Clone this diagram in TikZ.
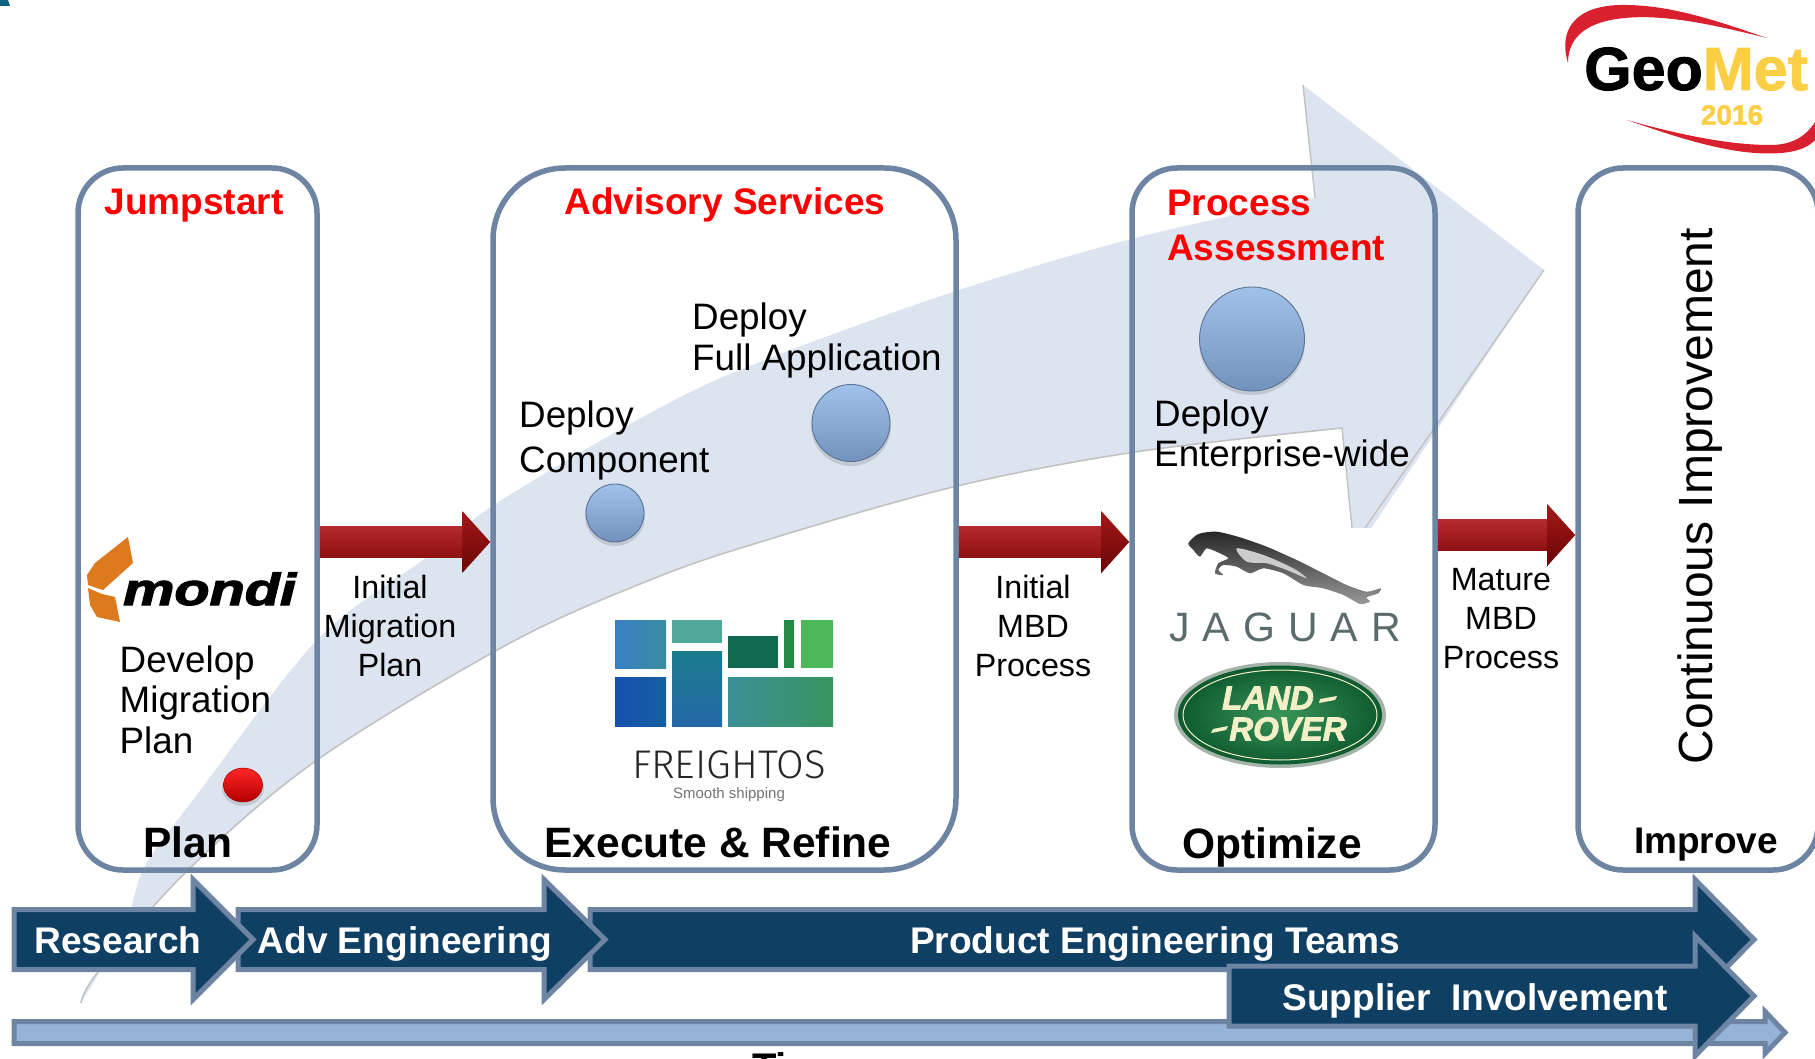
\documentclass[tikz,border=0pt]{standalone}
\usepackage{fontspec}
\usepackage{graphicx}
\setmainfont{Liberation Sans}
\newfontfamily\thinfont{Fira Sans Light}
\newfontfamily\heavyital[FakeBold=2.5]{Liberation Sans Bold Italic}
\newfontfamily\heavyfont[FakeBold=1.5]{Liberation Sans Bold}
\usetikzlibrary{shapes.geometric,calc}
\definecolor{frame}{HTML}{6D85A2}
\definecolor{navy}{HTML}{103F64}
\definecolor{timebar}{HTML}{95B3D7}
\definecolor{swoosh}{HTML}{DCE4F0}
\definecolor{swooshedge}{HTML}{C2C2C2}
\definecolor{logored}{HTML}{D8202F}
\definecolor{logoyellow}{HTML}{FBCF45}
\definecolor{redhi}{HTML}{B42A2E}
\definecolor{redmid}{HTML}{820808}
\definecolor{redlo}{HTML}{8E1010}
\definecolor{headhi}{HTML}{A51818}
\definecolor{headlo}{HTML}{6A0606}
\definecolor{ballhi}{HTML}{A0C2EA}
\definecolor{balllo}{HTML}{7092BC}
\definecolor{balledge}{HTML}{5A7394}
\definecolor{jagtext}{HTML}{5A6B6B}
\definecolor{orangem}{HTML}{DE7A1E}
\definecolor{lrgreenin}{HTML}{3A9558}
\definecolor{lrgreenout}{HTML}{0E5A30}
\definecolor{lrring}{HTML}{A3B3A8}
\definecolor{lrcream}{HTML}{F3F0C8}
\definecolor{HTMLblue1}{HTML}{3A7FC4}
\definecolor{HTMLblue2}{HTML}{3A8CA0}
\definecolor{HTMLteal}{HTML}{4FA89A}
\definecolor{HTMLteal2}{HTML}{1B7A8C}
\definecolor{HTMLblue3}{HTML}{2468A8}
\definecolor{HTMLblue4}{HTML}{1550B0}
\definecolor{HTMLblue5}{HTML}{1560A0}
\definecolor{HTMLgreen1}{HTML}{116B50}
\definecolor{HTMLgreen2}{HTML}{238A45}
\definecolor{HTMLgreen3}{HTML}{4CB858}
\definecolor{HTMLteal3}{HTML}{3A9098}
\definecolor{HTMLgreen4}{HTML}{38945E}
\tikzset{
  stagebox/.style={draw=frame,line width=5.5pt,rectangle,inner sep=0pt},
  blockarrow/.style={draw=frame,line width=5pt,fill=navy,miter limit=10},
  bodytext/.style={inner sep=0pt,font=\fontsize{36.8}{40}\selectfont,anchor=base west},
  linktext/.style={inner sep=0pt,font=\fontsize{32.2}{38}\selectfont,anchor=base,align=center},
  redtitle/.style={inner sep=0pt,font=\bfseries\fontsize{37}{45}\selectfont,text=red,anchor=base west},
  stagetitle/.style={inner sep=0pt,font=\bfseries\fontsize{42.5}{45}\selectfont,anchor=base},
  whitetext/.style={inner sep=0pt,font=\bfseries\fontsize{37.1}{40}\selectfont,text=white,anchor=base},
  ballnode/.style={ellipse,inner sep=0pt,draw=balledge,line width=.9pt,top color=ballhi,bottom color=balllo},
  ballshadow/.style={fill=black,opacity=.12},
}
\newcommand{\blockarr}[7][navy]{% fill, left, base, tip, cy, bodyhalf, headhalf
  \draw[blockarrow,fill=#1] (#2,#5-#6) -- (#3,#5-#6) -- (#3,#5-#7) -- (#4,#5) -- (#3,#5+#7) -- (#3,#5+#6) -- (#2,#5+#6) -- cycle;}
\newcommand{\redconn}[3]{%
  \path[top color=redhi,middle color=redmid,bottom color=redlo] let \p1=(#1.east),\p2=(#2.west) in
    ({\x1},{\y1-#3pt+15.5pt}) -- ({\x2-27pt},{\y1-#3pt+15.5pt}) -- ({\x2-27pt},{\y1-#3pt-15.5pt}) -- ({\x1},{\y1-#3pt-15.5pt}) -- cycle;
  \path[top color=headhi,bottom color=headlo] let \p1=(#1.east),\p2=(#2.west) in
    ({\x2-28pt},{\y1-#3pt+31pt}) -- ({\x2},{\y1-#3pt}) -- ({\x2-28pt},{\y1-#3pt-31pt}) -- cycle;
}
\begin{document}
\begin{tikzpicture}[x=1pt,y=-1pt]
\useasboundingbox (0,0) rectangle (1815,1059);
% corner fragment
\fill[navy!80!cyan] (0,0) -- (8,0) -- (10,6) -- (0,6) -- cycle;
% big swoosh
\fill[swoosh] plot[smooth,tension=.55] coordinates {(81,1003) (123,930) (140,877) (155,850) (193,800) (317,640) (423,560) (497,503) (650,413) (757,363) (953,292) (1135,238) (1315,198)}
  -- (1303,85) -- (1544,270) -- (1358,548) -- (1352,528)
  -- plot[smooth,tension=.55] coordinates {(1342,428) (1135,452) (953,487) (757,543) (650,580) (510,643) (317,760) (188,870) (98,972) (81,1003)} -- cycle;
\draw[swooshedge,line width=1.6pt] plot[smooth,tension=.55] coordinates {(1342,428) (1135,452) (953,487) (757,543) (650,580) (510,643) (317,760) (188,870) (98,972) (81,1003)};
\draw[swooshedge,line width=1.4pt] (1303,85) -- (1315,198);
\draw[swooshedge,line width=1.4pt] (1342,428) -- (1352,528);
\draw[swooshedge,line width=1.4pt] (1544,270) -- (1365,528);
% white backing of the Jaguar / Land Rover picture
\fill[white] (1167,528) rectangle (1403,790);
% stage boxes
\node[stagebox,rounded corners=45pt,minimum width=239pt,minimum height=702pt] (plan) at (197.5,519) {};
\node[stagebox,rounded corners=72pt,minimum width=463pt,minimum height=702pt] (exec) at (724.5,519) {};
\node[stagebox,rounded corners=45pt,minimum width=303pt,minimum height=702pt] (opt) at (1283.5,519) {};
\node[stagebox,rounded corners=45pt,minimum width=240pt,minimum height=702pt] (impr) at (1698,519) {};
% red connectors
\redconn{plan}{exec}{23}
\redconn{exec}{opt}{23}
\redconn{opt}{impr}{16}
% link labels
\node[linktext] (l1) at (390,598) {Initial};
\node[linktext] (l2) at (390,637) {Migration};
\node[linktext] (l3) at (390,676) {Plan};
\node[linktext] (m1) at (1033,598) {Initial};
\node[linktext] (m2) at (1033,637) {MBD};
\node[linktext] (m3) at (1033,676) {Process};
\node[linktext] (n1) at (1501,590) {Mature};
\node[linktext] (n2) at (1501,629) {MBD};
\node[linktext] (n3) at (1501,668) {Process};
% titles
\node[redtitle,anchor=base] (t1) at (194,215) {Jumpstart};
\node[redtitle,anchor=base] (t2) at (725,215) {Advisory Services};
\node[redtitle] (t3) at (1167,216) {Process};
\node[redtitle] (t4) at (1167,261) {Assessment};
\node[stagetitle] (s1) at (188,857) {Plan};
\node[stagetitle] (s2) at (718,857) {Execute \& Refine};
\node[stagetitle] (s3) at (1272,858) {Optimize};
\node[inner sep=0pt,anchor=base,font=\bfseries\fontsize{37}{40}\selectfont] (s4) at (1706,853) {Improve};
\node[inner sep=0pt,font=\fontsize{48}{50}\selectfont,rotate=90] (ci) at (1700,496) {Continuous Improvement};
% body texts
\node[bodytext] (a1) at (119.5,672) {Develop};
\node[bodytext] (a2) at (119.5,712) {Migration};
\node[bodytext] (a3) at (119.5,753) {Plan};
\node[bodytext] (b1) at (519,427) {Deploy};
\node[bodytext] (b2) at (519,472) {Component};
\node[bodytext] (c1) at (692,330) {Deploy};
\node[bodytext] (c2) at (692,370) {Full Application};
\node[bodytext] (d1) at (1154,426) {Deploy};
\node[bodytext] (d2) at (1154,466) {Enterprise-wide};
% spheres
\fill[ballshadow] (243,788) ellipse (21pt and 18pt);
\node[ellipse,inner sep=0pt,draw=red!60!black,line width=.5pt,top color=red!85!white,bottom color=red!70!black,minimum width=39pt,minimum height=34pt] (dot0) at (243,785) {};
\fill[ballshadow] (615,516) circle (30pt);
\node[ballnode,minimum width=58pt,minimum height=58pt] (dot1) at (615,513) {};
\fill[ballshadow] (851,426) circle (40pt);
\node[ballnode,minimum width=78pt,minimum height=77pt] (dot2) at (851,423) {};
\fill[ballshadow] (1252,342) circle (53pt);
\node[ballnode,minimum width=105pt,minimum height=104pt] (dot3) at (1252,339) {};
% mondi logo
\fill[orangem] (128,537) -- (133,563) -- (103,590) -- (88,585) -- (87,575) -- (95,563) -- cycle;
\fill[orangem] (88,588) -- (102,594) -- (115,597) -- (120,622) -- (97,617) -- (90,605) -- cycle;
\node[inner sep=0pt,anchor=base west,font=\heavyital\fontsize{45}{45}\selectfont] (mondi) at (123,605) {\scalebox{1.28}[1]{mondi}};
% freightos logo
\shade[left color=HTMLblue1,right color=HTMLblue2] (615,620) rectangle (666,668);
\fill[HTMLteal] (672,620) rectangle (722,643);
\shade[top color=HTMLteal2,bottom color=HTMLblue3] (672,651) rectangle (722,726);
\shade[left color=HTMLblue4,right color=HTMLblue5] (615,677) rectangle (666,726);
\fill[HTMLgreen1] (728,636) rectangle (778,668);
\fill[HTMLgreen2] (784,620) rectangle (794,668);
\fill[HTMLgreen3] (801,620) rectangle (833,668);
\shade[left color=HTMLteal3,right color=HTMLgreen4] (728,677) rectangle (833,726);
\node[inner sep=0pt,text=black!85,font=\thinfont\fontsize{40}{40}\selectfont] (fr) at (729,765) {\scalebox{1}[1]{FREIGHTOS}};
\node[inner sep=0pt,text=black!55,font=\fontsize{15}{15}\selectfont] (frs) at (729,795) {Smooth shipping};
% jaguar
\begin{scope}[shift={(1140,510)},x=.3333pt,y=-.3333pt]
\shade[top color=black!85,bottom color=black!40] plot[smooth cycle,tension=.4] coordinates {(145,100) (175,72) (230,65) (300,82) (380,110) (470,150) (540,185) (620,225) (680,245) (722,235) (715,250) (680,262) (690,275) (660,282) (610,255) (550,235) (490,225) (430,190) (370,175) (330,190) (290,170) (250,165) (235,180) (250,195) (225,190) (235,160) (265,145) (240,130) (200,115) (180,140) (160,120)};
\fill[black!20] plot[smooth cycle,tension=.5] coordinates {(290,115) (370,135) (460,175) (500,205) (440,180) (380,160) (320,155)};
\end{scope}
\node[inner sep=0pt,text=jagtext,font=\fontsize{41}{41}\selectfont\addfontfeature{LetterSpace=32}] (jag) at (1285,627) {JAGUAR};
% land rover
\node[ellipse,inner sep=0pt,fill=lrring,minimum width=212pt,minimum height=106pt] (lro) at (1280,715) {};
\node[ellipse,inner sep=0pt,inner color=lrgreenin,outer color=lrgreenout,minimum width=204pt,minimum height=99pt] (lri) at (lro) {};
\node[ellipse,inner sep=0pt,draw=lrcream,line width=1pt,minimum width=194pt,minimum height=90pt] (lrm) at (lro) {};
\node[inner sep=0pt,text=lrcream,font=\heavyital\fontsize{33}{33}\selectfont] (lr1) at (1268,698) {LAND};
\node[inner sep=0pt,text=lrcream,font=\heavyital\fontsize{33}{33}\selectfont] (lr2) at (1288,729) {ROVER};
\fill[lrcream] (1320,699) -- (1337,696) -- (1335,700) -- (1319,703) -- cycle;
\fill[lrcream] (1213,729) -- (1228,726) -- (1226,730) -- (1211,733) -- cycle;
% geomet logo
\fill[logored] (1568,63) .. controls (1558,30) and (1575,6) .. (1620,5) .. controls (1670,4) and (1720,22) .. (1767,38) .. controls (1715,25) and (1665,14) .. (1625,18) .. controls (1590,21) and (1568,35) .. (1568,63) -- cycle;
\fill[logored] (1627,120) .. controls (1680,135) and (1730,145) .. (1770,145) .. controls (1790,145) and (1805,138) .. (1815,122) -- (1815,140) .. controls (1805,151) and (1785,155) .. (1755,153) .. controls (1715,150) and (1670,135) .. (1627,120) -- cycle;
\node[inner sep=0pt,anchor=base west,font=\heavyfont\fontsize{61}{61}\selectfont] (geo) at (1584,90) {Geo\textcolor{logoyellow}{Met}};
\node[inner sep=0pt,text=logoyellow,font=\heavyfont\fontsize{28}{28}\selectfont] (yr) at (1732,115) {2016};
% bottom arrows
\blockarr[timebar]{14}{1765}{1785}{1032.5}{11}{21}
\node[inner sep=0pt,anchor=base west,font=\bfseries\fontsize{40}{40}\selectfont] (time) at (752,1081) {Time};
\blockarr{590}{1695}{1754}{939.5}{30}{60}
\blockarr{238}{544}{605}{939.5}{30}{60}
\blockarr{14}{193}{253}{939.5}{30}{60}
\blockarr{1229}{1695}{1754}{996}{30}{60}
\node[whitetext] (r) at (118,953) {Research};
\node[whitetext] (ae) at (405,953) {Adv Engineering};
\node[whitetext] (pe) at (1155,953) {Product Engineering Teams};
\node[whitetext] (si) at (1475,1010) {Supplier\ \ Involvement};
\end{tikzpicture}
\end{document}
